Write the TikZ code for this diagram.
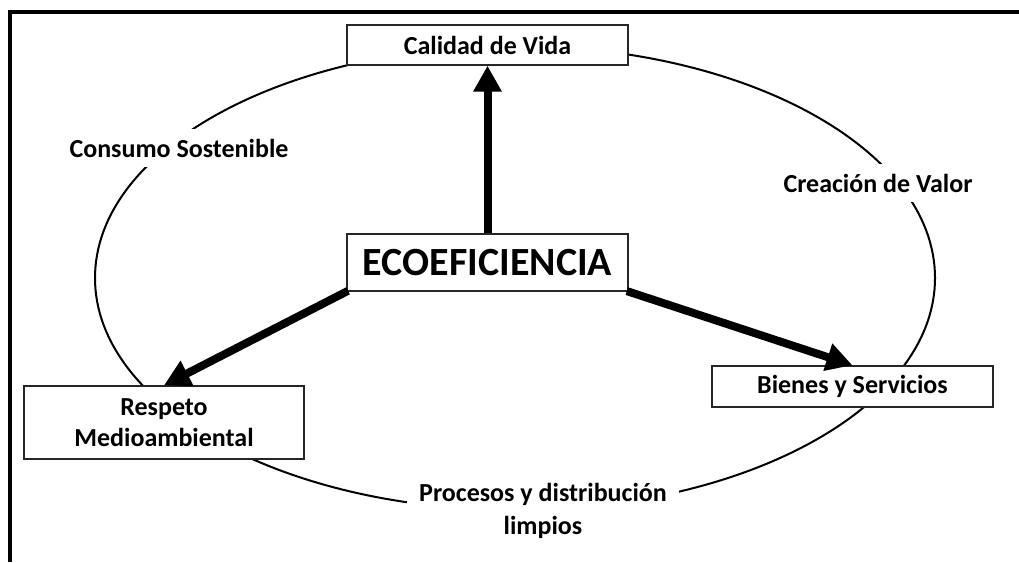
\documentclass[tikz,border=0pt]{standalone}
\usepackage{fontspec}
\setmainfont{Carlito}
\usetikzlibrary{arrows.meta}
\tikzset{
  box/.style={draw=black!85, line width=1.4pt, fill=white, minimum height=#1, inner sep=0pt, font=\bfseries\fontsize{26}{31}\selectfont, align=center},
  lbl/.style={fill=white, inner xsep=12pt, inner ysep=10pt, font=\bfseries\fontsize{26}{33}\selectfont, align=center},
  bigarrow/.style={line width=8pt, -{Triangle[width=27pt,length=26pt]}},
}
\begin{document}
\begin{tikzpicture}[x=1pt,y=-1pt]
\useasboundingbox (0,0) rectangle (1019,562);
% frame (cropped)
\draw[line width=3.5pt] (10,562) -- (10,12) -- (1019,12);
% ellipse
\draw[line width=2pt] (515,278) ellipse [x radius=420pt, y radius=232pt];
% labels on the ellipse
\node[lbl] (cs) at (179,148) {Consumo Sostenible};
\node[lbl] (cv) at (878,183) {Creación de Valor};
\node[lbl] (pd) at (543,511) {Procesos y distribución\\limpios};
% boxes
\node[box=40pt, minimum width=281pt] (cal) at (487.5,45) {Calidad de Vida};
\node[box=57pt, minimum width=281pt, font=\bfseries\fontsize{40}{42}\selectfont] (eco) at (487.5,262.5) {ECOEFICIENCIA};
\node[box=73pt, minimum width=280pt] (res) at (164,422.5) {Respeto\\Medioambiental};
\node[box=41pt, minimum width=281pt] (bie) at (852.5,386.5) {Bienes y Servicios};
% arrows
\draw[bigarrow] (eco.north) -- (cal.south);
\draw[bigarrow, shorten <=-2pt] (eco.south west) -- (res.north);
\draw[bigarrow, shorten <=-2pt] (eco.south east) -- (bie.north);
\end{tikzpicture}
\end{document}
